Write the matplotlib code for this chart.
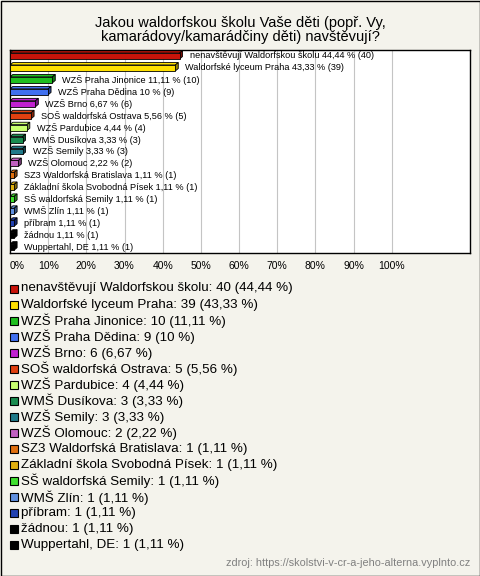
import numpy as np
import matplotlib
matplotlib.use("Agg")
import matplotlib.pyplot as plt
from matplotlib.patches import Rectangle, Polygon
from matplotlib.colors import to_rgb

# ---- data -------------------------------------------------------------
schools = [
    "nenavštěvují Waldorfskou školu",
    "Waldorfské lyceum Praha",
    "WZŠ Praha Jinonice",
    "WZŠ Praha Dědina",
    "WZŠ Brno",
    "SOŠ waldorfská Ostrava",
    "WZŠ Pardubice",
    "WMŠ Dusíkova",
    "WZŠ Semily",
    "WZŠ Olomouc",
    "SZ3 Waldorfská Bratislava",
    "Základní škola Svobodná Písek",
    "SŠ waldorfská Semily",
    "WMŠ Zlín",
    "příbram",
    "žádnou",
    "Wuppertahl, DE",
]
counts = [40, 39, 10, 9, 6, 5, 4, 3, 3, 2, 1, 1, 1, 1, 1, 1, 1]
percents = [44.44, 43.33, 11.11, 10, 6.67, 5.56, 4.44, 3.33, 3.33, 2.22,
            1.11, 1.11, 1.11, 1.11, 1.11, 1.11, 1.11]
colors = [
    "#c8140a", "#ffe000", "#1fbf1f", "#4070f0", "#c020d0", "#e04010",
    "#c8ff70", "#1a8c50", "#207a8a", "#c060c0", "#e07010", "#e0b010",
    "#40e030", "#6090e0", "#2040b0", "#000000", "#000000",
]
xticks = [0, 10, 20, 30, 40, 50, 60, 70, 80, 90, 100]

title = "Jakou waldorfskou školu Vaše děti (popř. Vy,\nkamarádovy/kamarádčiny děti) navštěvují?"
source = "zdroj: https://skolstvi-v-cr-a-jeho-alterna.vyplnto.cz"

BG = "#f4f3ec"
W, H = 480, 576


def fmt(p):
    s = f"{p:.2f}".rstrip("0").rstrip(".")
    return s.replace(".", ",")


def darker(c, f=0.6):
    r, g, b = to_rgb(c)
    return (r * f, g * f, b * f)


plt.rcParams["font.family"] = ["Liberation Sans", "DejaVu Sans"]

fig = plt.figure(figsize=(W / 100, H / 100), dpi=100, facecolor=BG)

# outer border
fig.patches.append(Rectangle((0.5 / W, 0.5 / H), 1 - 1 / W, 1 - 1 / H,
                             transform=fig.transFigure, fill=False,
                             edgecolor="black", linewidth=1.0))

fig.text(0.5, 1 - 30 / H, title, ha="center", va="center", fontsize=10.5,
         linespacing=1.05)

# ---- bar chart --------------------------------------------------------
left, right, top, bottom = 10, 470, 50, 253
ax = fig.add_axes([left / W, 1 - bottom / H, (right - left) / W, (bottom - top) / H])
ax.set_facecolor("white")
n = len(schools)
y = np.arange(n)
ax.set_xlim(0, 120.5)
ax.set_ylim(n - 0.5, -0.5)

for t in xticks[1:]:
    ax.axvline(t, color="#c4c4c4", linewidth=0.8, zorder=0)

h = 0.5
dx, dy = 0.75, 0.2
for yi, v, c, name, cnt in zip(y, percents, colors, schools, counts):
    top_y = yi - h / 2
    face = Polygon([(0, top_y), (v, top_y), (v + dx, top_y - dy), (dx, top_y - dy)],
                   closed=True, facecolor=c, edgecolor="black", linewidth=0.6, zorder=2)
    side = Polygon([(v, top_y), (v, yi + h / 2), (v + dx, yi + h / 2 - dy), (v + dx, top_y - dy)],
                   closed=True, facecolor=darker(c), edgecolor="black", linewidth=0.6, zorder=2)
    ax.add_patch(face)
    ax.add_patch(side)
    ax.barh(yi, v, height=h, color=c, edgecolor="black", linewidth=0.6, zorder=3)
    ax.text(v + 2.6, yi, f"{name} {fmt(v)} % ({cnt})", va="center", ha="left",
            fontsize=6.6, zorder=4)

ax.set_yticks([])
ax.set_xticks(xticks)
ax.set_xticklabels([f"{t}%" for t in xticks], fontsize=7.5)
ax.tick_params(axis="x", length=0, pad=6)
ax.get_xticklabels()[0].set_ha("left")
for s in ax.spines.values():
    s.set_color("black")
    s.set_linewidth(1.0)

# ---- legend -----------------------------------------------------------
y0, step = 288.5, 16.06
for i, (name, cnt, p, c) in enumerate(zip(schools, counts, percents, colors)):
    yy = y0 + i * step
    fig.patches.append(Rectangle((10 / W, 1 - (yy + 4) / H), 8 / W, 8 / H,
                                 transform=fig.transFigure, facecolor=c,
                                 edgecolor="black", linewidth=0.8))
    fig.text(21 / W, 1 - yy / H, f"{name}: {cnt} ({fmt(p)} %)",
             ha="left", va="center", fontsize=9.6)

fig.text(470 / W, 1 - 563 / H, source, ha="right", va="center",
         fontsize=7.8, color="#808080")

fig.savefig("out.png", dpi=100, facecolor=BG)
